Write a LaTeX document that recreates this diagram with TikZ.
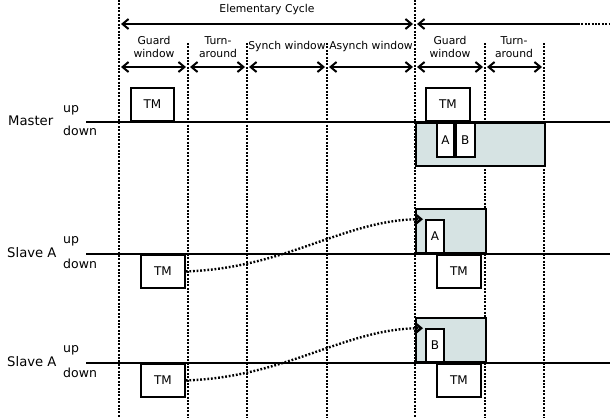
\documentclass[tikz,border=0pt]{standalone}
\usepackage{fontspec}
\setmainfont{DejaVu Sans}
\usetikzlibrary{arrows.meta}

\definecolor{slotfill}{RGB}{214,227,227}

\tikzset{
  sigline/.style={line width=2pt},
  gridline/.style={line width=2pt, dash pattern=on 2pt off 1.4pt},
  frame/.style={draw, line width=1.8pt, fill=white, inner sep=0pt, font=\fontsize{12}{14}\selectfont},
  slot/.style={draw, line width=1.8pt, fill=slotfill, inner sep=0pt},
  barb/.tip={Straight Barb[length=6pt,width=10pt]},
  span/.style={line width=2pt, barb-barb, shorten <=2pt, shorten >=2pt},
  lbl/.style={font=\fontsize{10.8}{13}\selectfont, align=center, inner sep=0pt},
  updown/.style={font=\fontsize{12.5}{14}\selectfont, inner sep=0pt, anchor=west},
  rowlbl/.style={font=\fontsize{13.2}{15}\selectfont, inner sep=0pt, anchor=west},
}

\begin{document}
\begin{tikzpicture}[x=1pt,y=-1pt]
\useasboundingbox (0,0) rectangle (610,418);

% time grid
\foreach \x/\n/\t in {119/0/0,188/1/43,247/2/43,327/3/43,415/4/0,485/5/43,544/6/43} {
  \coordinate (g\n) at (\x,\t);
  \coordinate (w\n) at (\x,67);
  \draw[gridline] (g\n) -- (\x,418);
}

% elementary cycle
\coordinate (c0) at (119,24);
\coordinate (c1) at (415,24);
\coordinate (c2) at (578,24);
\coordinate (c3) at (610,24);
\draw[span] (c0) -- (c1);
\draw[line width=2pt, barb-, shorten <=2pt] (c1) -- (c2);
\draw[gridline] (c2) -- (c3);
\node[lbl] (cycle) at (267,10) {Elementary Cycle};

% windows
\draw[span] (w0) -- (w1);
\draw[span] (w1) -- (w2);
\draw[span] (w2) -- (w3);
\draw[span] (w3) -- (w4);
\draw[span] (w4) -- (w5);
\draw[span] (w5) -- (w6);
\node[lbl] (guard1) at (154,47) {Guard\\window};
\node[lbl] (turn1) at (218,47) {Turn-\\around};
\node[lbl] (synch) at (287,47) {Synch window};
\node[lbl] (asynch) at (371,47) {Asynch window};
\node[lbl] (guard2) at (450,47) {Guard\\window};
\node[lbl] (turn2) at (514,47) {Turn-\\around};

% master
\node[slot, minimum width=129pt, minimum height=43pt, anchor=north west] (mslot) at (415,122) {};
\draw[sigline] (86,122) -- (610,122);
\node[rowlbl] (master) at (8,121) {Master};
\node[updown] (mup) at (63,110) {up};
\node[updown] (mdown) at (63,131) {down};
\node[frame, minimum width=43pt, minimum height=33pt, anchor=south west] (mtm) at (130,122) {TM};
\node[frame, minimum width=44pt, minimum height=33pt, anchor=south west] (mtm2) at (425,122) {TM};
\node[frame, minimum width=17pt, minimum height=34pt, anchor=north west] (ma) at (436,122) {A};
\node[frame, minimum width=19pt, minimum height=34pt, anchor=north west] (mb) at (ma.north east) {B};

% slaves
\foreach \y/\m/\r in {254/A/1,363/B/2} {
  \node[slot, minimum width=70pt, minimum height=44pt, anchor=south west] (sslot\r) at (415,\y) {};
  \draw[sigline] (86,\y) -- (610,\y);
  \node[rowlbl] (slave\r) at (7,\y-1) {Slave A};
  \node[updown] (sup\r) at (63,\y-13) {up};
  \node[updown] (sdown\r) at (63,\y+10) {down};
  \node[frame, minimum width=44pt, minimum height=33pt, anchor=north west] (stm\r) at (140,\y) {TM};
  \node[frame, minimum width=18pt, minimum height=33pt, anchor=south west] (smsg\r) at (425,\y) {\m};
  \node[frame, minimum width=44pt, minimum height=33pt, anchor=north west] (stm\r b) at (436,\y) {TM};
  \draw[line width=2.4pt, dash pattern=on 1.8pt off 1.8pt, -barb, shorten >=2pt] (stm\r.east) .. controls +(100,-3) and +(-80,0) .. (smsg\r.north west);
}

\end{tikzpicture}
\end{document}
